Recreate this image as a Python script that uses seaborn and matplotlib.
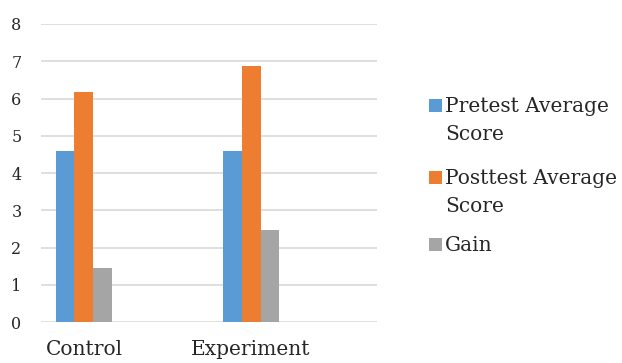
import matplotlib
matplotlib.use("Agg")
import matplotlib.pyplot as plt
from matplotlib.patches import Rectangle
import seaborn as sns
import pandas as pd

groups = ["Control", "Experiment"]
series = ["Pretest Average Score", "Posttest Average Score", "Gain"]
legend_labels = ["Pretest Average\nScore", "Posttest Average\nScore", "Gain"]
pretest = [4.58, 4.58]
posttest = [6.17, 6.87]
gain = [1.46, 2.48]
colors = ["#5B9BD5", "#ED7D31", "#A5A5A5"]
y_ticks = [0, 1, 2, 3, 4, 5, 6, 7, 8]

df = pd.DataFrame({
    "Group": groups * 3,
    "Series": [series[0]] * 2 + [series[1]] * 2 + [series[2]] * 2,
    "Score": pretest + posttest + gain,
})

sns.set_theme(style="white")
plt.rcParams["font.family"] = ["DejaVu Serif"]
text_color = "#262626"

W, H = 622, 363
fig = plt.figure(figsize=(W / 100, H / 100), dpi=100)
ax = fig.add_axes([0.0659, 0.1129, 0.5403, 0.821])

sns.barplot(data=df, x="Group", y="Score", hue="Series", hue_order=series,
            palette=colors, width=0.34, saturation=1, linewidth=0,
            ax=ax, legend=False)

ax.set_xlim(-0.257, 1.754)
ax.set_ylim(0, 8)
ax.set_yticks(y_ticks)
ax.set_yticklabels([str(t) for t in y_ticks], fontsize=11.5, color=text_color)
ax.tick_params(axis="y", length=0, pad=14)
ax.tick_params(axis="x", length=0, pad=13, labelsize=14.5, labelcolor=text_color)
ax.set_xlabel("")
ax.set_ylabel("")
ax.yaxis.grid(True, color="#D9D9D9", linewidth=1.2)
ax.set_axisbelow(True)
for s in ax.spines.values():
    s.set_visible(False)

# Legend: colour square beside the first line of each (wrapped) label
baselines_px = [112, 184, 251]
for label, color, base in zip(legend_labels, colors, baselines_px):
    fig.patches.append(Rectangle((429 / W, 1 - base / H), 13 / W, 13 / H,
                                 transform=fig.transFigure, facecolor=color,
                                 edgecolor="none"))
    first, *rest = label.split("\n")
    fig.text(445 / W, 1 - base / H, first, fontsize=14.5, color=text_color,
             ha="left", va="baseline")
    for i, line in enumerate(rest, start=1):
        fig.text(445 / W, 1 - (base + 28 * i) / H, line, fontsize=14.5,
                 color=text_color, ha="left", va="baseline")

fig.savefig("out.png", dpi=100)
